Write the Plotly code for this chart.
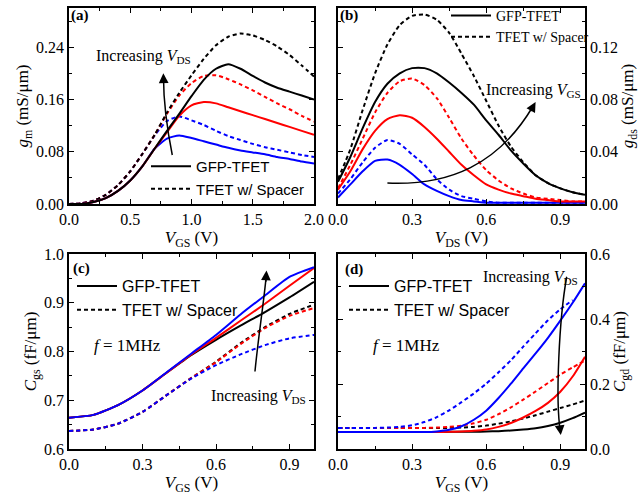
import plotly.graph_objects as go

# ---------------- data ----------------
# (a) gm vs VGS
vgs_a = [0.0, 0.1, 0.2, 0.3, 0.4, 0.5, 0.6, 0.7, 0.8, 0.9, 1.0, 1.1, 1.2, 1.3, 1.4, 1.5, 1.6, 1.7, 1.8, 1.9, 2.0]
gm_gfp_black = [0.000, 0.000, 0.003, 0.009, 0.020, 0.036, 0.058, 0.085, 0.112, 0.138, 0.165, 0.190, 0.207, 0.214, 0.207, 0.196, 0.186, 0.178, 0.172, 0.166, 0.160]
gm_gfp_red = [0.000, 0.000, 0.003, 0.009, 0.020, 0.036, 0.058, 0.085, 0.110, 0.135, 0.151, 0.156, 0.154, 0.148, 0.142, 0.136, 0.130, 0.124, 0.118, 0.112, 0.106]
gm_gfp_blue = [0.000, 0.000, 0.003, 0.009, 0.020, 0.036, 0.058, 0.085, 0.100, 0.105, 0.101, 0.096, 0.091, 0.086, 0.082, 0.079, 0.076, 0.072, 0.069, 0.065, 0.062]
gm_sp_black = [0.000, 0.001, 0.005, 0.014, 0.029, 0.050, 0.077, 0.106, 0.140, 0.170, 0.197, 0.222, 0.243, 0.256, 0.261, 0.258, 0.251, 0.241, 0.228, 0.212, 0.195]
gm_sp_red = [0.000, 0.001, 0.005, 0.014, 0.029, 0.050, 0.077, 0.106, 0.138, 0.166, 0.185, 0.196, 0.197, 0.191, 0.183, 0.174, 0.164, 0.154, 0.145, 0.135, 0.126]
gm_sp_blue = [0.000, 0.001, 0.005, 0.014, 0.029, 0.050, 0.077, 0.105, 0.127, 0.134, 0.128, 0.121, 0.112, 0.104, 0.098, 0.092, 0.087, 0.083, 0.079, 0.075, 0.072]

# (b) gds vs VDS
vds_b = [0.0, 0.05, 0.1, 0.15, 0.2, 0.25, 0.3, 0.35, 0.4, 0.45, 0.5, 0.55, 0.6, 0.65, 0.7, 0.75, 0.8, 0.85, 0.9, 0.95, 1.0]
gds_gfp_black = [0.017, 0.036, 0.058, 0.078, 0.092, 0.100, 0.104, 0.104, 0.100, 0.093, 0.085, 0.076, 0.064, 0.053, 0.041, 0.031, 0.022, 0.016, 0.012, 0.009, 0.007]
gds_gfp_red = [0.011, 0.025, 0.042, 0.056, 0.065, 0.068, 0.066, 0.059, 0.050, 0.040, 0.030, 0.022, 0.015, 0.011, 0.008, 0.006, 0.004, 0.003, 0.002, 0.002, 0.002]
gds_gfp_blue = [0.005, 0.015, 0.025, 0.033, 0.034, 0.030, 0.023, 0.015, 0.010, 0.006, 0.003, 0.002, 0.001, 0.001, 0.001, 0.001, 0.001, 0.001, 0.001, 0.001, 0.001]
gds_sp_black = [0.019, 0.042, 0.072, 0.100, 0.122, 0.137, 0.144, 0.145, 0.141, 0.131, 0.115, 0.098, 0.079, 0.060, 0.044, 0.032, 0.022, 0.016, 0.012, 0.009, 0.007]
gds_sp_red = [0.012, 0.030, 0.050, 0.070, 0.085, 0.094, 0.096, 0.091, 0.081, 0.066, 0.050, 0.037, 0.026, 0.018, 0.012, 0.008, 0.005, 0.004, 0.003, 0.002, 0.002]
gds_sp_blue = [0.008, 0.019, 0.032, 0.043, 0.049, 0.046, 0.038, 0.030, 0.019, 0.011, 0.006, 0.004, 0.002, 0.001, 0.001, 0.001, 0.001, 0.001, 0.001, 0.001, 0.001]

# (c) Cgs vs VGS
vgs_c = [0.0, 0.1, 0.2, 0.3, 0.4, 0.5, 0.6, 0.7, 0.8, 0.9, 1.0]
cgs_gfp_black = [0.664, 0.670, 0.690, 0.720, 0.757, 0.793, 0.824, 0.853, 0.881, 0.911, 0.943]
cgs_gfp_red = [0.664, 0.670, 0.690, 0.720, 0.757, 0.794, 0.828, 0.863, 0.898, 0.935, 0.971]
cgs_gfp_blue = [0.664, 0.670, 0.690, 0.720, 0.758, 0.796, 0.834, 0.876, 0.915, 0.953, 0.973]
cgs_sp_black = [0.637, 0.640, 0.652, 0.676, 0.711, 0.746, 0.779, 0.817, 0.850, 0.877, 0.896]
cgs_sp_red = [0.637, 0.640, 0.652, 0.676, 0.711, 0.746, 0.778, 0.815, 0.848, 0.873, 0.889]
cgs_sp_blue = [0.637, 0.640, 0.652, 0.676, 0.711, 0.745, 0.772, 0.794, 0.813, 0.827, 0.834]

# (d) Cgd vs VGS
vgs_d = [0.0, 0.05, 0.1, 0.15, 0.2, 0.25, 0.3, 0.35, 0.4, 0.45, 0.5, 0.55, 0.6, 0.65, 0.7, 0.75, 0.8, 0.85, 0.9, 0.95, 1.0]
cgd_gfp_black = [0.052, 0.052, 0.052, 0.052, 0.052, 0.052, 0.052, 0.052, 0.052, 0.053, 0.053, 0.053, 0.054, 0.055, 0.057, 0.060, 0.064, 0.071, 0.081, 0.095, 0.112]
cgd_gfp_red = [0.052, 0.052, 0.052, 0.052, 0.052, 0.052, 0.052, 0.052, 0.052, 0.053, 0.054, 0.056, 0.060, 0.068, 0.080, 0.097, 0.117, 0.142, 0.176, 0.223, 0.284]
cgd_gfp_blue = [0.052, 0.052, 0.052, 0.052, 0.052, 0.052, 0.052, 0.052, 0.054, 0.059, 0.070, 0.090, 0.118, 0.157, 0.201, 0.248, 0.294, 0.342, 0.395, 0.450, 0.510]
cgd_sp_black = [0.065, 0.065, 0.065, 0.065, 0.065, 0.065, 0.065, 0.065, 0.065, 0.065, 0.066, 0.068, 0.072, 0.078, 0.085, 0.094, 0.104, 0.115, 0.126, 0.137, 0.149]
cgd_sp_red = [0.065, 0.065, 0.065, 0.065, 0.065, 0.065, 0.065, 0.065, 0.066, 0.068, 0.072, 0.079, 0.090, 0.107, 0.128, 0.152, 0.177, 0.203, 0.229, 0.251, 0.272]
vgs_d_sp_blue = [0.0, 0.05, 0.1, 0.15, 0.2, 0.25, 0.3, 0.35, 0.4, 0.45, 0.5, 0.55, 0.6, 0.65, 0.7, 0.75, 0.8, 0.85, 0.9, 0.95]
cgd_sp_blue = [0.065, 0.065, 0.065, 0.065, 0.066, 0.068, 0.073, 0.083, 0.098, 0.119, 0.144, 0.171, 0.201, 0.236, 0.273, 0.315, 0.356, 0.396, 0.430, 0.458]

LEG_SOLID = "GFP-TFET"
LEG_DASH = "TFET w/ Spacer"

# ---------------- styling ----------------
W, H = 643, 495
SERIF = "Liberation Serif, Times New Roman, serif"
SANS = "Liberation Sans, Arial, sans-serif"
BLACK, RED, BLUE = "#000000", "#ff0000", "#0000ff"
DASH = "4px,3px"
LW = 2
SMOOTH = 0.6


def px(x):
    return x / W


def py(y):
    return 1 - y / H


fig = go.Figure()

panels = [
    ("x", "y", "legend", vgs_a,
     [(gm_gfp_blue, BLUE), (gm_gfp_red, RED), (gm_gfp_black, BLACK)],
     [(gm_sp_blue, BLUE), (gm_sp_red, RED), (gm_sp_black, BLACK)]),
    ("x2", "y2", "legend2", vds_b,
     [(gds_gfp_blue, BLUE), (gds_gfp_red, RED), (gds_gfp_black, BLACK)],
     [(gds_sp_blue, BLUE), (gds_sp_red, RED), (gds_sp_black, BLACK)]),
    ("x3", "y3", "legend3", vgs_c,
     [(cgs_gfp_black, BLACK), (cgs_gfp_red, RED), (cgs_gfp_blue, BLUE)],
     [(cgs_sp_black, BLACK), (cgs_sp_red, RED), (cgs_sp_blue, BLUE)]),
    ("x4", "y4", "legend4", vgs_d,
     [(cgd_gfp_black, BLACK), (cgd_gfp_red, RED), (cgd_gfp_blue, BLUE)],
     [(cgd_sp_black, BLACK), (cgd_sp_red, RED), (cgd_sp_blue, BLUE)]),
]

for xa, ya, leg, xs, solids, dashes in panels:
    for ys, col in dashes:
        xx = xs if not (xa == "x4" and col == BLUE) else vgs_d_sp_blue
        fig.add_trace(go.Scatter(
            x=xx, y=ys, xaxis=xa, yaxis=ya, mode="lines",
            line=dict(color=col, width=LW, dash=DASH, shape="spline", smoothing=SMOOTH),
            name=LEG_DASH, legend=leg, showlegend=(col == BLACK), legendrank=2))
    for ys, col in solids:
        fig.add_trace(go.Scatter(
            x=xs, y=ys, xaxis=xa, yaxis=ya, mode="lines",
            line=dict(color=col, width=LW, shape="spline", smoothing=SMOOTH),
            name=LEG_SOLID, legend=leg, showlegend=(col == BLACK), legendrank=1))

# domains (pixel boxes)
XA = [px(69), px(314)]
XB = [px(338), px(585)]
YT = [py(204), py(8)]
YB = [py(449), py(254)]

tickfont = dict(family=SERIF, size=16, color="black")
titlefont = dict(family=SERIF, size=17, color="black")


def xaxis(domain, anchor, rng, dtick, minor, fmt, title):
    return dict(domain=domain, anchor=anchor, range=rng, dtick=dtick, tick0=0,
                tickformat=fmt, showline=True, linecolor="black", linewidth=1.5,
                mirror="ticks", ticks="inside", ticklen=5, tickwidth=1.2, tickcolor="black",
                minor=dict(dtick=minor, ticks="inside", ticklen=3, tickwidth=1, tickcolor="black"),
                showgrid=False, zeroline=False, tickfont=tickfont, automargin=False,
                title=dict(text=title, font=titlefont, standoff=0))


def yaxis(domain, anchor, rng, dtick, minor, fmt, title, side="left"):
    return dict(domain=domain, anchor=anchor, range=rng, dtick=dtick, tick0=0,
                tickformat=fmt, showline=True, linecolor="black", linewidth=1.5,
                mirror="ticks", ticks="inside", ticklen=5, tickwidth=1.2, tickcolor="black",
                minor=dict(dtick=minor, ticks="inside", ticklen=3, tickwidth=1, tickcolor="black"),
                showgrid=False, zeroline=False, tickfont=tickfont, automargin=False,
                side=side, title=dict(text=title, font=titlefont, standoff=3))


fig.update_layout(
    xaxis=xaxis(XA, "y", [0, 2.0], 0.5, 0.25, ".1f", "<i>V</i><sub>GS</sub> (V)"),
    yaxis=yaxis(YT, "x", [0, 0.30], 0.08, 0.04, ".2f", "<i>g</i><sub>m</sub> (mS/μm)"),
    xaxis2=xaxis(XB, "y2", [0, 1.0], 0.3, 0.15, ".1f", "<i>V</i><sub>DS</sub> (V)"),
    yaxis2=yaxis(YT, "x2", [0, 0.15], 0.04, 0.02, ".2f", "<i>g</i><sub>ds</sub> (mS/μm)", side="right"),
    xaxis3=xaxis(XA, "y3", [0, 1.0], 0.3, 0.15, ".1f", "<i>V</i><sub>GS</sub> (V)"),
    yaxis3=yaxis(YB, "x3", [0.6, 1.0], 0.1, 0.05, ".1f", "<i>C</i><sub>gs</sub> (fF/μm)"),
    xaxis4=xaxis(XB, "y4", [0, 1.0], 0.3, 0.15, ".1f", "<i>V</i><sub>GS</sub> (V)"),
    yaxis4=yaxis(YB, "x4", [0, 0.6], 0.2, 0.1, ".1f", "<i>C</i><sub>gd</sub> (fF/μm)", side="right"),
)

legcommon = dict(xanchor="left", yanchor="top", bgcolor="rgba(0,0,0,0)",
                 borderwidth=0, itemwidth=40, tracegroupgap=0, traceorder="normal")
fig.update_layout(
    legend=dict(x=px(146), y=py(150), font=dict(family=SANS, size=15, color="black"), **legcommon),
    legend2=dict(x=px(446), y=1.0, font=dict(family=SERIF, size=14, color="black"), **legcommon),
    legend3=dict(x=px(72), y=py(269), font=dict(family=SANS, size=16, color="black"), **legcommon),
    legend4=dict(x=px(344), y=py(269), font=dict(family=SANS, size=16, color="black"), **legcommon),
)

TXT = dict(xref="paper", yref="paper", showarrow=False, xanchor="center", yanchor="middle")
anns = []
# panel labels
for lab, x0, y0 in [("(a)", 80, 16), ("(b)", 349, 16), ("(c)", 81, 268), ("(d)", 354, 269)]:
    anns.append(dict(text="<b>" + lab + "</b>", x=px(x0), y=py(y0),
                     font=dict(family=SERIF, size=15, color="black"), **TXT))
# text labels
anns += [
    dict(text="Increasing <i>V</i><sub>DS</sub>", x=px(143), y=py(57),
         font=dict(family=SERIF, size=16, color="black"), **TXT),
    dict(text="Increasing <i>V</i><sub>GS</sub>", x=px(533), y=py(91),
         font=dict(family=SERIF, size=16, color="black"), **TXT),
    dict(text="Increasing <i>V</i><sub>DS</sub>", x=px(258), y=py(396),
         font=dict(family=SERIF, size=16, color="black"), **TXT),
    dict(text="Increasing <i>V</i><sub>DS</sub>", x=px(530), y=py(277),
         font=dict(family=SERIF, size=16, color="black"), **TXT),
    dict(text="<i>f</i> = 1MHz", x=px(127), y=py(345),
         font=dict(family=SERIF, size=17, color="black"), **TXT),
    dict(text="<i>f</i> = 1MHz", x=px(406), y=py(345),
         font=dict(family=SERIF, size=17, color="black"), **TXT),
]
# arrow heads (data coordinates of each panel)
for xr, yr, x, y, ax, ay in [("x", "y", 0.770, 0.200, 0.773, 0.185),
                             ("x2", "y2", 0.800, 0.078, 0.776, 0.070),
                             ("x3", "y3", 0.806, 0.966, 0.803, 0.940),
                             ("x4", "y4", 0.902, 0.043, 0.897, 0.075)]:
    anns.append(dict(x=x, y=y, ax=ax, ay=ay, xref=xr, yref=yr, axref=xr, ayref=yr,
                     showarrow=True, arrowhead=2, arrowsize=1.3, arrowwidth=1.5, arrowcolor="black", text=""))
fig.update_layout(annotations=anns)

# curved arrow bodies
shapes = [
    dict(type="path", xref="x", yref="y", path="M 0.843,0.075 C 0.80,0.115 0.772,0.160 0.771,0.195",
         line=dict(color="black", width=1.5)),
    dict(type="path", xref="x2", yref="y2", path="M 0.2,0.016 C 0.45,0.014 0.65,0.030 0.79,0.075",
         line=dict(color="black", width=1.5)),
    dict(type="path", xref="x3", yref="y3", path="M 0.759,0.759 C 0.775,0.84 0.795,0.90 0.805,0.955",
         line=dict(color="black", width=1.5)),
    dict(type="path", xref="x4", yref="y4", path="M 0.926,0.530 C 0.895,0.40 0.88,0.15 0.90,0.055",
         line=dict(color="black", width=1.5)),
]
fig.update_layout(shapes=shapes)

fig.update_layout(width=W, height=H, margin=dict(l=0, r=0, t=0, b=0),
                  paper_bgcolor="white", plot_bgcolor="white", showlegend=True)

fig.write_html("out.html")
